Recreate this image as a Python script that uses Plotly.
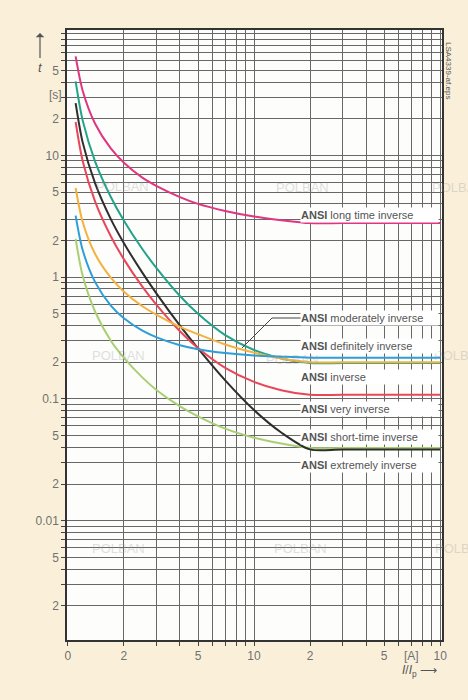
import plotly.graph_objects as go

# Current multiple I/Ip and tripping times t [s] for the ANSI characteristics
i_ratio = [1.1, 1.2, 1.4, 1.7, 2, 2.5, 3, 4, 5, 7, 10, 14, 20, 30, 100]

t_long_time = [65, 34, 18.2, 11.4, 8.7, 6.6, 5.6, 4.55, 4.0, 3.5, 3.15, 2.94, 2.78, 2.78, 2.78]
t_moderately = [5.4, 2.84, 1.55, 0.99, 0.76, 0.58, 0.49, 0.39, 0.34, 0.28, 0.24, 0.215, 0.2, 0.2, 0.2]
t_definitely = [3.2, 1.67, 0.91, 0.585, 0.46, 0.365, 0.32, 0.276, 0.256, 0.238, 0.227, 0.222, 0.218, 0.218, 0.218]
t_inverse = [40.6, 19.4, 8.9, 4.56, 2.91, 1.72, 1.18, 0.70, 0.50, 0.334, 0.252, 0.215, 0.197, 0.197, 0.197]
t_very = [18.8, 9.0, 4.18, 2.17, 1.40, 0.845, 0.59, 0.36, 0.262, 0.18, 0.138, 0.118, 0.108, 0.108, 0.108]
t_short_time = [2.06, 1.03, 0.52, 0.30, 0.217, 0.151, 0.118, 0.087, 0.072, 0.057, 0.048, 0.043, 0.0395, 0.0395, 0.0395]
t_extremely = [26.9, 12.8, 5.9, 3.0, 1.9, 1.1, 0.73, 0.40, 0.26, 0.142, 0.081, 0.053, 0.0385, 0.0385, 0.0385]

curve_names = ["ANSI long time inverse", "ANSI moderately inverse", "ANSI definitely inverse",
               "ANSI inverse", "ANSI very inverse", "ANSI short-time inverse", "ANSI extremely inverse"]

# axis ticks
x_tickvals = [1, 2, 3, 4, 5, 6, 7, 8, 9, 10, 20, 30, 40, 50, 60, 70, 80, 90, 100]
x_ticktext = ["0", "2", "", "", "5", "", "", "", "", "10", "2", "", "", "5", "", "[A]", "", "", "10"]

y_tickvals = []
y_ticktext = []
y_labels = {0.002: "2", 0.005: "5", 0.01: "0.01", 0.02: "2", 0.05: "5", 0.1: "0.1", 0.2: "2",
            0.5: "5", 1: "1", 2: "2", 5: "5", 10: "10", 20: "2", 50: "5"}
for exp in [-3, -2, -1, 0, 1]:
    for d in range(1, 10):
        v = round(d * 10 ** exp, 6)
        y_tickvals.append(v)
        y_ticktext.append(y_labels.get(v, ""))
y_tickvals.append(100)
y_ticktext.append("")

# plot area in pixels
L, R, T, B = 67, 26, 30, 60
W, H = 468, 700
PW, PH = W - L - R, H - T - B


def px(x):
    return (x - L) / PW


def py(y):
    return (H - B - y) / PH


fig = go.Figure()

series = [
    (t_short_time, "#A9CF74"),
    (t_extremely, "#2E2E2E"),
    (t_very, "#E8475A"),
    (t_inverse, "#22A38A"),
    (t_moderately, "#F3B13F"),
    (t_definitely, "#2C9FD9"),
    (t_long_time, "#E0357F"),
]
for vals, col in series:
    fig.add_trace(go.Scatter(x=i_ratio, y=vals, mode="lines",
                             line=dict(color=col, width=2, shape="spline", smoothing=0.8),
                             hoverinfo="skip", showlegend=False))

font_family = "Liberation Sans, Arial, sans-serif"
grid_col = "#686868"

fig.update_xaxes(type="log", range=[-0.005, 2.01], tickvals=x_tickvals, ticktext=x_ticktext,
                 tickangle=0,
                 showgrid=True, gridcolor=grid_col, gridwidth=1,
                 showline=True, linecolor="#333333", linewidth=1.5, mirror=True,
                 ticks="outside", ticklen=4, tickcolor="#444444", zeroline=False,
                 tickfont=dict(size=12, color="#707070", family=font_family))
fig.update_yaxes(type="log", range=[-2.98, 2.03], tickvals=y_tickvals, ticktext=y_ticktext,
                 tickangle=0,
                 showgrid=True, gridcolor=grid_col, gridwidth=1,
                 showline=True, linecolor="#333333", linewidth=1.5, mirror=True,
                 ticks="outside", ticklen=4, tickcolor="#444444", zeroline=False,
                 tickfont=dict(size=12, color="#707070", family=font_family))

annotations = []

# faint watermark text (drawn first so the labels sit on top)
for wx, wy in [(122, 186), (302, 187), (458, 187), (118, 355), (292, 360), (460, 355),
               (118, 548), (300, 548), (462, 548)]:
    annotations.append(dict(xref="paper", yref="paper", x=px(wx), y=py(wy), text="POLBAN",
                            xanchor="center", yanchor="middle",
                            showarrow=False, opacity=0.3,
                            font=dict(size=13, color="#9a9a9a", family=font_family)))

# characteristic labels on white boxes
label_y = [215, 318, 346, 377, 409, 437, 465]
for name, yy in zip(curve_names, label_y):
    annotations.append(dict(
        xref="paper", yref="paper", x=px(300), y=py(yy), xanchor="left", yanchor="middle",
        text="<b>ANSI</b>" + name[4:], showarrow=False, align="left",
        width=137, height=14, bgcolor="white", borderpad=0,
        font=dict(size=11, color="#555555", family=font_family)))

# pointer line for the moderately inverse label
shapes = [dict(type="path", xref="paper", yref="paper",
               path=f"M {px(301)} {py(318)} L {px(272)} {py(318)} L {px(242)} {py(348)}",
               line=dict(color="#444444", width=1))]

# axis captions
annotations.append(dict(xref="paper", yref="paper", x=px(40), y=py(33), ax=0, ay=34,
                        text="<i>t</i>", showarrow=True, arrowhead=1, arrowsize=1.2,
                        arrowwidth=1.2, arrowcolor="#555555",
                        font=dict(size=13, color="#555555", family=font_family)))
annotations.append(dict(xref="paper", yref="paper", x=px(55), y=py(95), text="[s]",
                        xanchor="center", yanchor="middle",
                        showarrow=False, font=dict(size=12, color="#707070", family=font_family)))
annotations.append(dict(xref="paper", yref="paper", x=px(419), y=py(671),
                        xanchor="center", yanchor="middle",
                        text="<i>I</i>/<i>I</i><sub>p</sub> ⟶", showarrow=False,
                        font=dict(size=12, color="#555555", family=font_family)))
annotations.append(dict(xref="paper", yref="paper", x=px(448), y=py(70), text="LSA4339-af.eps",
                        xanchor="center", yanchor="middle",
                        textangle=90, showarrow=False,
                        font=dict(size=8, color="#555555", family=font_family)))

fig.update_layout(
    width=W, height=H,
    margin=dict(l=L, r=R, t=T, b=B),
    paper_bgcolor="#FAF0DA",
    plot_bgcolor="#FDFDFB",
    showlegend=False,
    annotations=annotations,
    shapes=shapes,
    font=dict(family=font_family),
)

fig.write_html("out.html")
